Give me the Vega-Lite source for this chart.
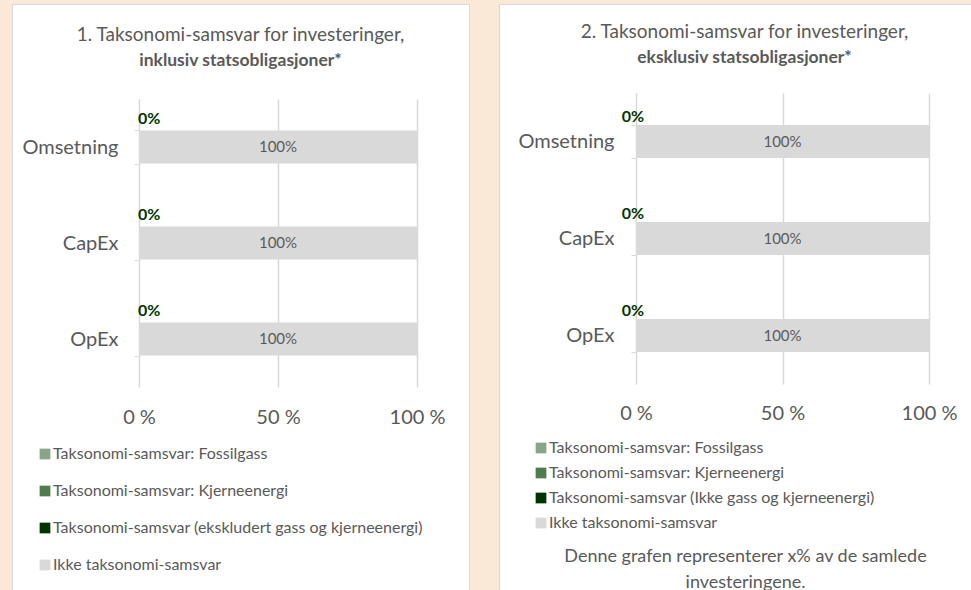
{
  "$schema": "https://vega.github.io/schema/vega-lite/v6.json",
  "background": "#FBE9D7",
  "padding": {"left": 11, "top": -7, "right": 0, "bottom": 0},
  "spacing": 28,
  "config": {
    "font": "Lato",
    "view": {"fill": "white", "stroke": "#D9D9D9", "strokeWidth": 1}
  },
  "resolve": {"scale": {"color": "independent", "x": "independent", "y": "independent"}, "legend": {"color": "independent"}},
  "hconcat": [
    {
      "width": 457,
      "height": 586,
      "data": {"values": [
        {"kategori": "Omsetning", "serie": "Taksonomi-samsvar: Fossilgass", "verdi": 0},
        {"kategori": "Omsetning", "serie": "Taksonomi-samsvar: Kjerneenergi", "verdi": 0},
        {"kategori": "Omsetning", "serie": "Taksonomi-samsvar (ekskludert gass og kjerneenergi)", "verdi": 0},
        {"kategori": "Omsetning", "serie": "Ikke taksonomi-samsvar", "verdi": 1},
        {"kategori": "CapEx", "serie": "Taksonomi-samsvar: Fossilgass", "verdi": 0},
        {"kategori": "CapEx", "serie": "Taksonomi-samsvar: Kjerneenergi", "verdi": 0},
        {"kategori": "CapEx", "serie": "Taksonomi-samsvar (ekskludert gass og kjerneenergi)", "verdi": 0},
        {"kategori": "CapEx", "serie": "Ikke taksonomi-samsvar", "verdi": 1},
        {"kategori": "OpEx", "serie": "Taksonomi-samsvar: Fossilgass", "verdi": 0},
        {"kategori": "OpEx", "serie": "Taksonomi-samsvar: Kjerneenergi", "verdi": 0},
        {"kategori": "OpEx", "serie": "Taksonomi-samsvar (ekskludert gass og kjerneenergi)", "verdi": 0},
        {"kategori": "OpEx", "serie": "Ikke taksonomi-samsvar", "verdi": 1}
      ]},
      "title": {
        "text": "1. Taksonomi-samsvar for investeringer,",
        "subtitle": "inklusiv statsobligasjoner*",
        "orient": "top", "anchor": "middle", "frame": "group", "offset": -75,
        "fontSize": 19, "fontWeight": "normal", "color": "#595959",
        "subtitleFontSize": 17.5, "subtitleFontWeight": "bold", "subtitleColor": "#595959", "subtitlePadding": 7
      },
      "transform": [{"stack": "verdi", "groupby": ["kategori"], "sort": [{"field": "serie", "order": "descending"}], "as": ["x0", "x1"]}],
      "layer": [
        {
          "mark": {"type": "bar"},
          "encoding": {
            "y": {"field": "kategori", "type": "nominal", "sort": ["Omsetning", "CapEx", "OpEx"],
              "scale": {"range": [95, 383], "paddingInner": 0.656, "paddingOuter": 0.328},
              "axis": {"orient": "left", "offset": -127, "title": null, "grid": false, "domainColor": "#D9D9D9", "tickColor": "#D9D9D9", "tickSize": 5, "tickBand": "extent", "labelFontSize": 20, "labelColor": "#595959", "labelPadding": 16}},
            "x": {"field": "x0", "type": "quantitative",
              "scale": {"domain": [0, 1], "range": [127, 405], "nice": false, "zero": false},
              "axis": {"orient": "bottom", "offset": -203, "title": null, "grid": false, "domain": false, "values": [0, 0.5, 1], "format": ".0%", "labelExpr": "replace(datum.label, '%', ' %')", "labelFlush": false, "tickSize": -288, "tickColor": "#D9D9D9", "tickWidth": 1.5, "labelFontSize": 20, "labelColor": "#595959", "labelPadding": 308}},
            "x2": {"field": "x1"},
            "color": {"field": "serie", "type": "nominal",
              "scale": {"domain": ["Taksonomi-samsvar: Fossilgass", "Taksonomi-samsvar: Kjerneenergi", "Taksonomi-samsvar (ekskludert gass og kjerneenergi)", "Ikke taksonomi-samsvar"], "range": ["#87A587", "#4F7B51", "#003300", "#D9D9D9"]},
              "legend": {"orient": "none", "legendX": 25, "legendY": 442, "title": null, "symbolType": "square", "symbolSize": 115, "symbolStrokeWidth": 0, "labelFontSize": 16, "labelColor": "#595959", "labelLimit": 500, "rowPadding": 21, "labelOffset": 0}}
          }
        },
        {
          "transform": [
            {"filter": {"field": "serie", "equal": "Ikke taksonomi-samsvar"}},
            {"fold": ["x0", "x1"], "as": ["kant", "pos"]}
          ],
          "mark": {"type": "text", "fontSize": 15, "color": "#595959"},
          "encoding": {
            "y": {"field": "kategori", "type": "nominal", "sort": ["Omsetning", "CapEx", "OpEx"]},
            "x": {"field": "pos", "aggregate": "mean", "type": "quantitative"},
            "text": {"field": "verdi", "aggregate": "max", "type": "quantitative", "format": ".0%"}
          }
        },
        {
          "transform": [{"filter": {"field": "serie", "equal": "Taksonomi-samsvar (ekskludert gass og kjerneenergi)"}}],
          "mark": {"type": "text", "fontSize": 16, "fontWeight": "bold", "color": "#003300", "align": "left", "dx": -1, "dy": -28},
          "encoding": {
            "y": {"field": "kategori", "type": "nominal", "sort": ["Omsetning", "CapEx", "OpEx"]},
            "x": {"field": "x0", "type": "quantitative"},
            "text": {"field": "verdi", "type": "quantitative", "format": ".0%"}
          }
        }
      ]
    },
    {
      "width": 475,
      "height": 586,
      "data": {"values": [
        {"kategori": "Omsetning", "serie": "Taksonomi-samsvar: Fossilgass", "verdi": 0},
        {"kategori": "Omsetning", "serie": "Taksonomi-samsvar: Kjerneenergi", "verdi": 0},
        {"kategori": "Omsetning", "serie": "Taksonomi-samsvar (Ikke gass og kjerneenergi)", "verdi": 0},
        {"kategori": "Omsetning", "serie": "Ikke taksonomi-samsvar", "verdi": 1},
        {"kategori": "CapEx", "serie": "Taksonomi-samsvar: Fossilgass", "verdi": 0},
        {"kategori": "CapEx", "serie": "Taksonomi-samsvar: Kjerneenergi", "verdi": 0},
        {"kategori": "CapEx", "serie": "Taksonomi-samsvar (Ikke gass og kjerneenergi)", "verdi": 0},
        {"kategori": "CapEx", "serie": "Ikke taksonomi-samsvar", "verdi": 1},
        {"kategori": "OpEx", "serie": "Taksonomi-samsvar: Fossilgass", "verdi": 0},
        {"kategori": "OpEx", "serie": "Taksonomi-samsvar: Kjerneenergi", "verdi": 0},
        {"kategori": "OpEx", "serie": "Taksonomi-samsvar (Ikke gass og kjerneenergi)", "verdi": 0},
        {"kategori": "OpEx", "serie": "Ikke taksonomi-samsvar", "verdi": 1}
      ]},
      "title": {
        "text": "2. Taksonomi-samsvar for investeringer,",
        "subtitle": "eksklusiv statsobligasjoner*",
        "orient": "top", "anchor": "middle", "frame": "group", "offset": -72, "dx": 8,
        "fontSize": 19, "fontWeight": "normal", "color": "#595959",
        "subtitleFontSize": 17.5, "subtitleFontWeight": "bold", "subtitleColor": "#595959", "subtitlePadding": 7
      },
      "transform": [{"stack": "verdi", "groupby": ["kategori"], "sort": [{"field": "serie", "order": "descending"}], "as": ["x0", "x1"]}],
      "layer": [
        {
          "mark": {"type": "bar"},
          "encoding": {
            "y": {"field": "kategori", "type": "nominal", "sort": ["Omsetning", "CapEx", "OpEx"],
              "scale": {"range": [89, 380], "paddingInner": 0.66, "paddingOuter": 0.33},
              "axis": {"orient": "left", "offset": -137, "title": null, "grid": false, "domainColor": "#D9D9D9", "tickColor": "#D9D9D9", "tickSize": 5, "tickBand": "extent", "labelFontSize": 20, "labelColor": "#595959", "labelPadding": 17}},
            "x": {"field": "x0", "type": "quantitative",
              "scale": {"domain": [0, 1], "range": [137, 430], "nice": false, "zero": false},
              "axis": {"orient": "bottom", "offset": -206, "grid": false, "domain": false, "values": [0, 0.5, 1], "format": ".0%", "labelExpr": "replace(datum.label, '%', ' %')", "labelFlush": false, "tickSize": -291, "tickColor": "#D9D9D9", "tickWidth": 1.5, "labelFontSize": 20, "labelColor": "#595959", "labelPadding": 310,
                "title": ["Denne grafen representerer x% av de samlede", "investeringene."], "titleX": 246, "titleY": 163, "titleAlign": "center", "titleBaseline": "top", "titleFontSize": 18, "titleFontWeight": "normal", "titleColor": "#595959", "titleLineHeight": 26}},
            "x2": {"field": "x1"},
            "color": {"field": "serie", "type": "nominal",
              "scale": {"domain": ["Taksonomi-samsvar: Fossilgass", "Taksonomi-samsvar: Kjerneenergi", "Taksonomi-samsvar (Ikke gass og kjerneenergi)", "Ikke taksonomi-samsvar"], "range": ["#87A587", "#4F7B51", "#003300", "#D9D9D9"]},
              "legend": {"orient": "none", "legendX": 34, "legendY": 436, "title": null, "symbolType": "square", "symbolSize": 115, "symbolStrokeWidth": 0, "labelFontSize": 16, "labelColor": "#595959", "labelLimit": 500, "rowPadding": 9, "labelOffset": 0}}
          }
        },
        {
          "transform": [
            {"filter": {"field": "serie", "equal": "Ikke taksonomi-samsvar"}},
            {"fold": ["x0", "x1"], "as": ["kant", "pos"]}
          ],
          "mark": {"type": "text", "fontSize": 15, "color": "#595959"},
          "encoding": {
            "y": {"field": "kategori", "type": "nominal", "sort": ["Omsetning", "CapEx", "OpEx"]},
            "x": {"field": "pos", "aggregate": "mean", "type": "quantitative"},
            "text": {"field": "verdi", "aggregate": "max", "type": "quantitative", "format": ".0%"}
          }
        },
        {
          "transform": [{"filter": {"field": "serie", "equal": "Taksonomi-samsvar (Ikke gass og kjerneenergi)"}}],
          "mark": {"type": "text", "fontSize": 16, "fontWeight": "bold", "color": "#003300", "align": "center", "dx": -3, "dy": -25},
          "encoding": {
            "y": {"field": "kategori", "type": "nominal", "sort": ["Omsetning", "CapEx", "OpEx"]},
            "x": {"field": "x0", "type": "quantitative"},
            "text": {"field": "verdi", "type": "quantitative", "format": ".0%"}
          }
        }
      ]
    }
  ]
}
